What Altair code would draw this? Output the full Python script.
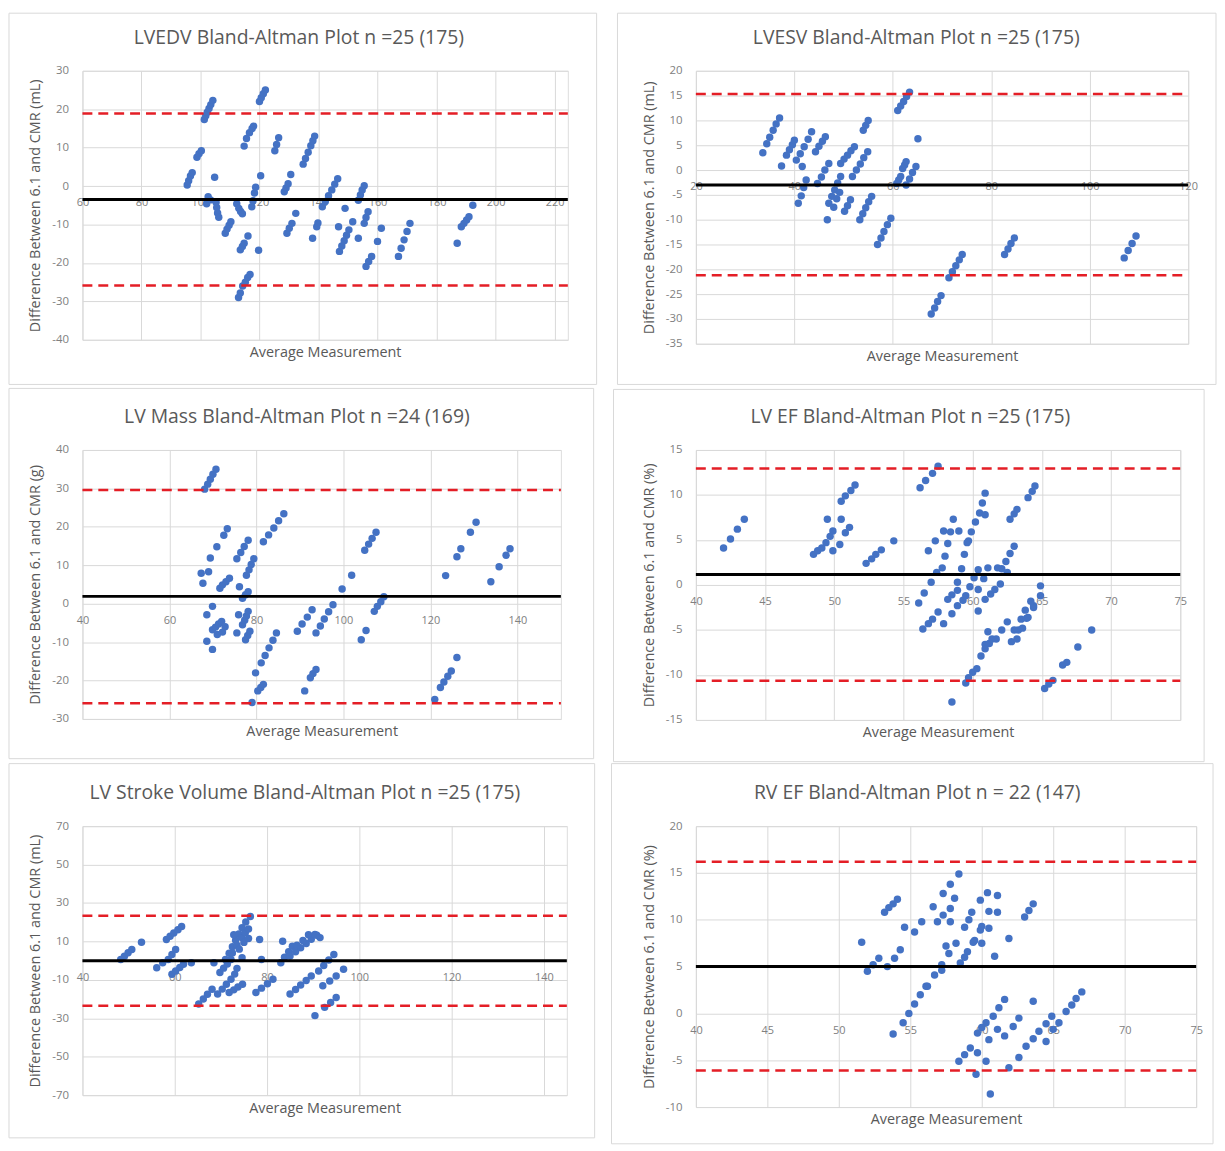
import altair as alt
import pandas as pd

# ---------------- data ----------------
p1_avg = [95.5, 96.0, 96.6, 97.2, 98.8, 99.5, 100.3, 101.3, 101.8, 102.3, 102.9, 103.5, 104.2, 104.8,
          102.6, 102.1, 103.4, 105.3, 105.5, 105.8, 106.2, 108.4, 109.0, 109.7, 110.3, 112.3, 113.0, 113.6,
          114.2, 113.5, 114.2, 114.8, 112.9, 113.5, 114.3, 115.2, 116.0, 116.8, 116.1, 114.8, 115.6, 116.6,
          117.5, 118.0, 117.4, 117.8, 118.3, 118.7, 119.7, 120.4, 120.0, 120.6, 121.3, 122.0, 125.2, 125.8,
          126.5, 128.4, 129.0, 129.7, 130.6, 129.3, 130.1, 131.0, 132.3, 134.8, 135.6, 136.5, 137.4, 138.1,
          138.7, 138.0, 139.4, 139.8, 141.3, 142.3, 143.4, 144.5, 145.5, 146.5, 146.8, 147.1, 147.9, 148.7,
          149.5, 150.3, 149.0, 151.6, 153.5, 153.5, 154.2, 154.8, 155.5, 155.5, 156.1, 156.8, 156.1, 157.0,
          158.0, 160.0, 161.3, 167.1, 168.0, 169.0, 170.0, 171.0, 187.0, 188.4, 189.3, 190.2, 191.0, 192.3]
p1_diff = [0.3, 1.4, 2.6, 3.5, 7.5, 8.4, 9.2, 17.3, 18.3, 19.2, 20.2, 21.2, 22.3, 2.3,
           -2.8, -4.6, -3.6, -4.2, -5.6, -7.0, -8.1, -12.3, -11.2, -10.2, -9.3, -4.6, -5.8, -6.6,
           -7.2, -16.6, -15.7, -14.9, -29.0, -27.8, -26.0, -25.0, -23.8, -23.0, -13.0, 10.4, 12.4, 13.9,
           15.0, 15.6, -5.4, -3.8, -1.8, -0.3, -16.7, 2.7, 22.0, 23.0, 24.0, 25.0, 9.2, 10.8,
           12.6, -1.5, -0.5, 0.6, 3.0, -12.3, -11.0, -9.7, -7.1, 5.7, 7.2, 8.8, 10.5, 11.8,
           13.0, -13.6, -10.6, -9.6, -5.4, -4.0, -2.5, -1.0, 0.5, 1.9, -10.6, -17.0, -15.6, -14.2,
           -12.8, -11.4, -5.8, -9.3, -13.6, -3.7, -2.3, -1.0, 0.1, -9.7, -8.2, -6.7, -20.9, -19.6,
           -18.3, -14.4, -11.0, -18.3, -16.2, -14.0, -11.8, -9.7, -14.9, -10.6, -9.7, -8.8, -8.0, -5.0]

p2_avg = [33.6, 34.4, 35.0, 35.7, 36.3, 37.0, 37.4, 38.4, 39.0, 39.6, 40.0, 40.4, 41.2, 42.0, 42.8, 43.5,
          40.8, 41.4, 41.9, 42.4, 41.6, 44.3, 45.0, 45.7, 46.3, 44.7, 45.5, 46.2, 47.0, 46.7, 47.0, 47.6,
          48.2, 48.8, 49.4, 48.0, 48.6, 49.2, 49.4, 50.1, 50.8, 51.5, 52.2, 50.2, 50.8, 51.4, 51.8, 52.6,
          53.4, 54.1, 54.9, 53.3, 53.9, 54.5, 55.1, 55.7, 54.0, 54.5, 55.0, 56.9, 57.6, 58.2, 58.9, 59.6,
          60.8, 61.2, 61.6, 61.0, 61.6, 62.2, 62.8, 63.4, 62.0, 62.4, 62.7, 62.7, 63.4, 64.0, 64.7, 65.1,
          67.8, 68.5, 69.1, 69.8, 71.4, 72.1, 72.8, 73.5, 74.1, 82.7, 83.4, 84.0, 84.7, 107.0, 107.8,
          108.6, 109.4]
p2_diff = [3.5, 5.3, 6.6, 8.0, 9.3, 10.5, 0.8, 3.0, 4.1, 5.1, 6.0, 2.0, 3.3, 4.7, 6.2, 7.7,
           -6.7, -5.2, -3.5, -2.0, 0.7, 3.7, 4.8, 5.8, 6.7, -2.7, -1.4, 0.0, 1.3, -10.0, -6.7, -5.3,
           -4.0, -2.6, -1.3, -7.5, -5.8, -4.5, 1.3, 2.2, 3.0, 3.9, 4.7, -8.3, -7.2, -6.0, -1.3, 0.0,
           1.2, 2.5, 3.7, -10.0, -8.8, -7.6, -6.4, -5.3, 8.0, 9.0, 10.0, -15.0, -13.7, -12.4, -11.0, -9.7,
           -2.7, -2.0, -1.3, 12.0, 12.9, 13.8, 14.8, 15.7, 0.3, 1.0, 1.7, -3.0, -1.8, -0.5, 0.7, 6.3,
           -29.0, -27.8, -26.5, -25.3, -21.7, -20.5, -19.3, -18.1, -17.0, -17.0, -15.9, -14.8, -13.7, -17.7, -16.2,
           -14.8, -13.3]

p3_avg = [68.1, 68.8, 69.4, 70.0, 70.7, 67.3, 67.7, 69.0, 69.4, 70.9, 72.5, 73.3, 71.6, 72.2, 73.0, 73.8,
          68.6, 69.9, 68.6, 69.9, 69.9, 70.6, 71.3, 72.0, 71.0, 72.2, 72.8, 75.5, 75.9, 76.1, 75.5, 76.4,
          77.2, 78.1, 76.8, 77.5, 78.1, 76.8, 77.3, 77.7, 78.1, 77.5, 78.0, 78.5, 77.7, 78.3, 78.8, 79.4,
          79.0, 79.8, 80.3, 81.0, 81.6, 81.1, 82.0, 82.9, 83.8, 84.6, 81.6, 82.8, 84.0, 85.1, 86.3, 89.4,
          90.5, 91.7, 92.8, 91.1, 92.4, 93.0, 93.7, 93.7, 94.7, 95.6, 96.6, 97.6, 99.7, 101.9, 104.1, 105.2,
          104.9, 105.8, 106.6, 107.5, 107.1, 107.8, 108.6, 109.3, 121.0, 122.3, 123.1, 124.0, 124.8, 126.1,
          123.5, 126.1, 127.0, 129.2, 130.5, 133.9, 135.8, 137.4, 138.3]
p3_diff = [29.8, 31.1, 32.4, 33.7, 35.0, 7.9, 5.3, 8.3, 11.9, 14.8, 17.8, 19.5, 4.0, 4.9, 5.7, 6.6,
           -2.9, -0.7, -9.8, -11.9, -6.8, -6.1, -5.3, -4.6, -8.0, -7.4, -6.0, -7.6, -2.9, 4.4, 11.7, 13.3,
           14.9, 16.5, 1.4, 2.3, 3.1, -5.5, -4.3, -3.2, -2.0, -9.4, -8.3, -7.2, 7.4, 8.8, 10.2, 11.7,
           -25.7, -18.0, -22.7, -21.8, -21.0, -15.4, -13.5, -11.5, -9.5, -7.6, 16.1, 17.9, 19.7, 21.6, 23.4, -7.2,
           -5.3, -3.5, -1.6, -22.7, -19.3, -18.2, -17.1, -7.6, -5.8, -4.0, -2.1, -0.3, 3.8, 7.4, -9.4, -7.0,
           13.9, 15.5, 17.0, 18.6, -2.0, -0.7, 0.5, 1.8, -24.9, -21.8, -20.4, -18.9, -17.5, -14.0,
           7.3, 12.2, 14.3, 18.6, 21.2, 5.7, 9.6, 12.6, 14.3]

p4_avg = [42.0, 42.5, 43.0, 43.5, 48.5, 48.8, 49.1, 49.5, 49.4, 49.7, 49.9, 49.9, 50.5, 50.4, 50.5, 50.8,
          51.2, 51.5, 50.8, 51.1, 52.3, 52.7, 53.0, 53.4, 54.3, 56.1, 56.5, 57.0, 57.4, 56.4, 56.8, 57.1,
          56.2, 56.6, 57.1, 57.5, 56.8, 57.3, 57.9, 57.5, 57.9, 57.8, 58.2, 58.6, 58.0, 58.4, 58.5, 58.2,
          58.5, 58.9, 58.5, 58.9, 59.2, 59.4, 59.7, 59.0, 58.9, 59.3, 59.5, 59.7, 60.0, 59.5, 59.8, 60.1,
          60.4, 59.6, 59.9, 60.2, 60.5, 60.7, 60.9, 60.3, 60.6, 60.9, 61.1, 60.4, 60.4, 60.8, 61.1, 60.9,
          60.9, 61.2, 61.4, 60.9, 61.3, 61.6, 62.0, 61.7, 62.1, 62.5, 61.8, 62.1, 62.4, 62.7, 63.0, 62.5,
          62.7, 63.0, 63.2, 62.8, 63.3, 63.9, 64.4, 64.9, 63.2, 63.6, 64.0, 64.4, 63.0, 63.5, 63.8, 64.2,
          64.0, 64.3, 64.5, 64.9, 65.2, 65.5, 65.8, 66.5, 66.8, 67.6, 68.6]
p4_diff = [4.1, 5.1, 6.2, 7.3, 3.4, 3.8, 4.1, 7.3, 4.7, 5.4, 6.0, 3.8, 7.3, 4.5, 9.3, 9.9,
           10.5, 11.1, 5.8, 6.4, 2.4, 2.9, 3.4, 3.9, 4.9, -2.0, -0.9, 0.3, 1.4, -4.9, -4.3, -3.8,
           10.8, 11.6, 12.4, 13.2, 3.8, 4.9, 6.0, -3.0, -4.3, 1.9, 4.6, 7.3, 3.2, 5.9, -13.0, -1.6,
           -1.1, -0.6, -3.2, 0.3, 1.8, 3.4, 4.9, 6.0, -2.3, -1.7, -10.9, -10.3, -9.7, -1.2, -0.2, 0.8,
           1.7, 4.7, 5.9, 7.0, 8.0, 9.1, 10.2, -9.3, -7.9, -6.6, -5.2, -2.9, -0.5, 0.7, 1.9, 7.8,
           -7.1, -6.5, -6.0, -1.6, -1.0, -0.5, 0.1, -6.0, -5.0, -4.1, 1.9, 1.8, 2.6, 3.5, 4.3, 1.4,
           7.3, 7.9, 8.4, -6.3, -5.0, -3.7, -2.5, -1.2, -6.0, -4.8, -3.6, -2.3, -5.0, -3.8, -2.8, -1.8,
           9.7, 10.4, 11.0, -0.1, -11.5, -11.0, -10.6, -8.9, -8.6, -6.9, -5.0]

p5_avg = [48.3, 49.1, 49.9, 50.7, 52.8, 56.1, 57.4, 58.2, 59.0, 59.8, 60.7, 61.5, 58.6, 59.4, 60.2, 59.4,
          60.2, 61.1, 61.9, 63.6, 65.2, 66.2, 67.1, 68.1, 68.5, 69.8, 70.6, 71.4, 72.2, 69.3, 70.3, 71.2,
          72.2, 71.0, 71.8, 72.5, 73.2, 73.9, 74.6, 75.4, 76.4, 72.5, 73.5, 74.5, 75.3, 76.0, 72.8, 74.0,
          75.0, 76.0, 74.6, 73.5, 73.0, 71.8, 72.8, 73.7, 74.7, 78.4, 78.8, 77.6, 78.8, 80.1, 81.3, 83.0,
          83.8, 84.7, 85.5, 83.4, 85.0, 86.2, 87.3, 88.5, 89.6, 85.0, 86.2, 87.3, 88.5, 89.6, 90.8, 86.5,
          87.8, 89.0, 90.4, 91.5, 91.2, 92.3, 93.4, 94.5, 90.4, 92.1, 93.6, 95.0, 92.5, 93.8, 95.0, 96.6]
p5_diff = [0.6, 2.3, 4.1, 5.8, 9.6, -3.7, -1.1, 11.0, 12.7, 14.4, 16.1, 17.8, 0.6, 3.2, 5.8, -7.1,
           -5.4, -3.6, -1.9, -1.1, -22.6, -20.0, -17.5, -14.9, -1.1, -6.2, -3.9, -1.7, 0.6, -17.4, -14.8, -12.3,
           -9.7, 0.6, 3.9, 7.3, 10.6, 13.9, 17.1, 20.1, 23.0, 4.0, 8.0, 12.0, 14.5, 16.5, 13.5, 6.0,
           9.5, 11.5, 1.5, -4.0, -7.0, -16.6, -15.2, -13.7, -12.3, 11.0, 0.6, -16.6, -14.3, -12.0, -9.7, -1.1,
           1.8, 4.6, 7.5, 10.1, -17.4, -15.0, -12.7, -10.3, -8.0, 2.4, 4.6, 6.7, 8.9, 11.1, 13.2, 8.0,
           10.5, 13.5, 13.6, 12.0, -5.4, -2.5, 0.3, 3.2, -28.6, -13.1, -10.6, -8.0, -24.3, -21.8, -19.2, -4.5]

p6_avg = [51.6, 52.0, 52.4, 52.8, 53.2, 53.5, 53.8, 54.1, 53.4, 53.9, 53.8, 54.3, 54.6, 54.5, 54.9, 55.3,
          55.7, 56.1, 55.3, 55.8, 56.2, 56.7, 57.2, 57.7, 58.2, 56.6, 56.9, 57.3, 57.8, 57.3, 57.8, 57.2,
          57.5, 57.8, 58.1, 58.4, 58.4, 58.8, 59.2, 58.5, 59.0, 59.5, 59.9, 58.8, 59.1, 59.3, 58.8, 59.4,
          60.0, 60.5, 61.1, 59.6, 59.7, 59.7, 60.0, 60.3, 59.9, 60.4, 60.3, 60.5, 60.6, 60.0, 60.5, 61.1,
          60.9, 60.8, 61.2, 61.6, 61.1, 61.6, 61.9, 61.9, 62.2, 62.6, 62.6, 63.0, 63.3, 63.6, 63.6, 63.1,
          63.6, 64.0, 64.5, 64.9, 64.5, 65.0, 65.4, 65.9, 66.3, 66.6, 67.0]
p6_diff = [7.6, 4.5, 5.2, 5.9, 10.8, 11.3, 11.7, 12.2, 5.0, 5.9, -2.2, 6.8, 9.2, -1.0, 0.0, 1.0,
           2.0, 2.9, 8.7, 9.8, 2.9, 4.1, 5.2, 6.4, 7.5, 11.4, 9.8, 10.5, 11.2, 12.8, 13.8, 4.6,
           7.2, 9.8, 12.3, 14.9, -5.1, -4.4, -3.7, 5.4, 6.6, 7.8, 8.9, 9.2, 10.0, 10.8, 6.0, 7.6,
           9.3, 10.9, 12.6, -6.5, -4.2, -2.1, -1.5, -1.0, 12.1, 12.9, -5.1, -2.8, -8.6, 7.5, 9.1, 10.8,
           6.1, -0.3, 0.6, 1.5, -1.7, -2.4, 8.0, -5.8, -1.4, -0.5, -4.7, 10.3, 11.0, 11.7, 1.3, -3.5,
           -2.7, -1.9, -1.1, -0.3, -3.0, -1.7, -1.0, 0.2, 0.9, 1.6, 2.3]

titles = ["LVEDV Bland-Altman Plot n =25 (175)", "LVESV Bland-Altman Plot n =25 (175)",
          "LV Mass Bland-Altman Plot n =24 (169)", "LV EF Bland-Altman Plot n =25 (175)",
          "LV Stroke Volume Bland-Altman Plot n =25 (175)", "RV EF Bland-Altman Plot n = 22 (147)"]
y_titles = ["Difference Between 6.1 and CMR (mL)", "Difference Between 6.1 and CMR (mL)",
            "Difference Between 6.1 and CMR (g)", "Difference Between 6.1 and CMR (%)",
            "Difference Between 6.1 and CMR (mL)", "Difference Between 6.1 and CMR (%)"]
x_title = "Average Measurement"

x_domains = [[60, 224.5], [20, 120], [40, 150], [40, 75], [40, 145], [40, 75]]
x_ticks = [[60, 80, 100, 120, 140, 160, 180, 200, 220], [20, 40, 60, 80, 100, 120],
           [40, 60, 80, 100, 120, 140], [40, 45, 50, 55, 60, 65, 70, 75],
           [40, 60, 80, 100, 120, 140], [40, 45, 50, 55, 60, 65, 70, 75]]
y_domains = [[-40, 30], [-35, 20], [-30, 40], [-15, 15], [-70, 70], [-10, 20]]
y_ticks = [[-40, -30, -20, -10, 0, 10, 20, 30], [-35, -30, -25, -20, -15, -10, -5, 0, 5, 10, 15, 20],
           [-30, -20, -10, 0, 10, 20, 30, 40], [-15, -10, -5, 0, 5, 10, 15],
           [-70, -50, -30, -10, 10, 30, 50, 70], [-10, -5, 0, 5, 10, 15, 20]]
means = [-3.5, -3.0, 1.9, 1.15, 0.0, 5.0]
upper_loa = [18.9, 15.3, 29.6, 12.95, 23.4, 16.2]
lower_loa = [-25.9, -21.2, -25.9, -10.65, -23.5, -6.1]

# ---------------- layout / style ----------------
sizes = [(489, 271), (496, 275), (482, 271), (488, 272), (488, 271), (504, 283)]
# panel frame (left, right, top, bottom) relative to the plot area
boxes = [(-74, 29, -58, 45), (-79, 28, -58, 41), (-74, 33, -62, 40),
         (-83, 24, -61, 42), (-74, 28, -63, 43), (-85, 17, -63, 37)]
title_x = [218, 222, 216, 216, 224, 223]

FONT = "Open Sans"
BLUE = "#4472c4"
RED = "#e41e26"
GRID = "#d9d9d9"
LABEL = "#808080"
TITLE = "#595959"

series = [(p1_avg, p1_diff), (p2_avg, p2_diff), (p3_avg, p3_diff),
          (p4_avg, p4_diff), (p5_avg, p5_diff), (p6_avg, p6_diff)]


def panel(i):
    avg, diff = series[i]
    W, H = sizes[i]
    xdom, ydom = x_domains[i], y_domains[i]
    df = pd.DataFrame({"avg": avg, "diff": diff})
    xs = alt.Scale(domain=xdom, nice=False, zero=False)
    ys = alt.Scale(domain=ydom, nice=False, zero=False)
    d = H * (0 - ydom[0]) / (ydom[1] - ydom[0])

    xaxis = alt.Axis(values=x_ticks[i], title=x_title, grid=True, gridColor=GRID, gridWidth=1,
                     domain=False, ticks=False, tickSize=0, labelPadding=11, offset=-d,
                     labelColor=LABEL, labelFont=FONT, labelFontSize=11, labelFlush=False,
                     labelOverlap=False, labelBound=False, labelExpr="datum.value + ''",
                     titleY=d + 13, titleBaseline="middle", titleColor=TITLE, titleFont=FONT,
                     titleFontSize=14.5, titleFontWeight="normal")
    yaxis = alt.Axis(values=y_ticks[i], title=y_titles[i], grid=True, gridColor=GRID, gridWidth=1,
                     domain=False, ticks=False, tickSize=0, labelPadding=14,
                     labelColor=LABEL, labelFont=FONT, labelFontSize=11.5,
                     labelOverlap=False, labelFlush=False, labelBound=False,
                     labelExpr="datum.value + ''",
                     titleX=-47, titleY=H / 2, titleAngle=270, titleAlign="center",
                     titleBaseline="middle", titleColor=TITLE, titleFont=FONT,
                     titleFontSize=14.5, titleFontWeight="normal")

    one = pd.DataFrame({"k": [0]})
    bl, br, bt, bb = boxes[i]
    box = alt.Chart(one).mark_rect(fillOpacity=0, stroke=GRID, strokeWidth=1).encode(
        x=alt.value(bl), x2=alt.value(W + br), y=alt.value(bt), y2=alt.value(H + bb))

    pts = alt.Chart(df).mark_circle(size=56, color=BLUE, opacity=1).encode(
        x=alt.X("avg:Q", scale=xs, axis=xaxis),
        y=alt.Y("diff:Q", scale=ys, axis=yaxis))

    def hline(v, color, width, dash=None):
        kw = dict(color=color, strokeWidth=width)
        if dash:
            kw["strokeDash"] = dash
        return alt.Chart(pd.DataFrame({"v": [v]})).mark_rule(**kw).encode(
            y=alt.Y("v:Q", scale=ys, axis=yaxis), x=alt.value(0), x2=alt.value(W))

    up = hline(upper_loa[i], RED, 2.5, [10, 6])
    lo = hline(lower_loa[i], RED, 2.5, [10, 6])
    mn = hline(means[i], "black", 3)

    ttl = alt.Chart(one).mark_text(text=titles[i], font=FONT, fontSize=19.5, color=TITLE,
                                   align="center", baseline="middle").encode(
        x=alt.value(title_x[i]), y=alt.value(-33))

    return alt.layer(box, pts, up, lo, mn, ttl).properties(width=W, height=H)


chart = alt.concat(*[panel(i) for i in range(6)], columns=2,
                   spacing={"row": 107, "column": 129}, bounds="flush").properties(
    padding=0
).configure_view(strokeWidth=0).configure(background="white")

chart.save("out.html", embed_options={"renderer": "svg", "actions": False})
